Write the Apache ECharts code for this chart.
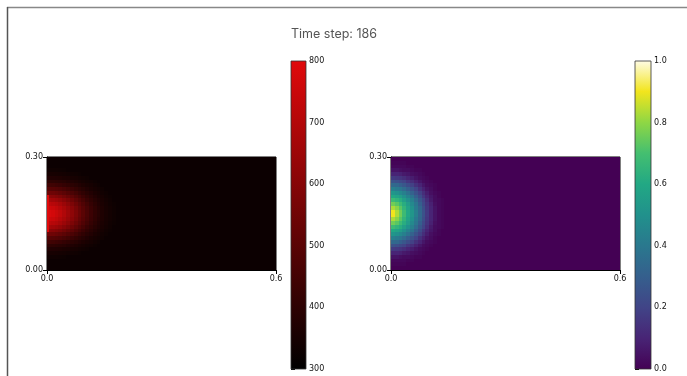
<!DOCTYPE html>
<html>
<head>
<meta charset="utf-8">
<script src="https://cdn.jsdelivr.net/npm/echarts@6/dist/echarts.min.js"></script>
<style>html,body{margin:0;padding:0;background:#fff;}#c{width:687px;height:376px;}</style>
</head>
<body>
<div id="c"></div>
<script>
// ---------- data ----------
const titleText = 'Time step: 186';
const xTicks = [0.0, 0.6];
const yTicks = [0.0, 0.3];
const tempTicks = [300, 400, 500, 600, 700, 800];
const concTicks = [0.0, 0.2, 0.4, 0.6, 0.8, 1.0];
const nx = 60, ny = 30, cell = 0.01;
const tempBackground = 326;
const concBackground = 0.0;
const tempRowStart = 3;  // first listed temperature row (y = 0.03..0.04)
const concRowStart = 1;  // first listed concentration row (y = 0.01..0.02)
// temperature rows, columns i = 0.. (unlisted cells = background)
const tempRows = [
  [336,336,335,333,331],
  [351,351,349,347,344,341,338,335,331],
  [373,372,369,366,361,357,352,348,342,338,333],
  [403,401,397,392,386,379,372,364,356,350,343,337,331],
  [444,441,435,427,417,408,397,386,376,365,356,348,340,334],
  [494,490,483,473,460,446,429,413,399,384,372,359,350,342,335],
  [549,545,535,522,506,488,468,447,425,407,390,375,360,351,341,334],
  [609,603,592,576,555,532,507,482,457,431,409,390,374,359,349,339,331],
  [667,660,647,628,603,576,546,515,486,457,428,405,385,369,355,345,336],
  [717,709,695,672,645,614,580,545,510,478,447,418,396,377,360,349,339,331],
  [756,747,729,705,676,642,605,567,528,494,460,429,404,383,366,352,342,333],
  [781,771,749,723,693,656,618,579,539,502,467,435,408,386,368,354,343,334],
  [781,771,749,723,693,656,618,579,539,502,467,435,408,386,368,354,343,334],
  [756,747,729,705,676,642,605,567,528,494,460,429,404,383,366,352,342,333],
  [717,709,695,672,645,614,580,545,510,478,447,418,396,377,360,349,339,331],
  [667,660,647,628,603,576,546,515,486,457,428,405,385,369,355,345,336],
  [609,603,592,576,555,532,507,482,457,431,409,390,374,359,349,339,331],
  [549,545,535,522,506,488,468,447,425,407,390,375,360,351,341,334],
  [494,490,483,473,460,446,429,413,399,384,372,359,350,342,335],
  [444,441,435,427,417,408,397,386,376,365,356,348,340,334],
  [403,401,397,392,386,379,372,364,356,350,343,337,331],
  [373,372,369,366,361,357,352,348,342,338,333],
  [351,351,349,347,344,341,338,335,331],
  [336,336,335,333,331]
];
const concRows = [
  [.01,.01,.01,.01],
  [.02,.02,.02,.02,.01,.01],
  [.05,.05,.04,.03,.03,.02,.01,.01],
  [.10,.10,.09,.07,.06,.04,.03,.02,.01],
  [.17,.16,.15,.13,.10,.08,.05,.03,.02,.01],
  [.25,.24,.22,.20,.16,.13,.09,.06,.03,.02,.01],
  [.34,.33,.30,.27,.23,.19,.14,.10,.06,.03,.02,.01],
  [.43,.41,.39,.35,.30,.25,.20,.14,.09,.05,.03,.01],
  [.52,.50,.47,.43,.38,.31,.25,.19,.13,.08,.04,.02,.01],
  [.60,.58,.55,.50,.44,.38,.30,.23,.16,.10,.06,.03,.01],
  [.68,.65,.62,.56,.50,.43,.35,.27,.20,.13,.07,.03,.02,.01],
  [.76,.73,.68,.62,.55,.47,.39,.30,.22,.15,.09,.04,.02,.01],
  [.83,.79,.73,.65,.58,.50,.41,.33,.24,.16,.10,.05,.02,.01],
  [.90,.83,.76,.68,.60,.52,.43,.34,.25,.17,.10,.05,.02,.01],
  [.90,.83,.76,.68,.60,.52,.43,.34,.25,.17,.10,.05,.02,.01],
  [.83,.79,.73,.65,.58,.50,.41,.33,.24,.16,.10,.05,.02,.01],
  [.76,.73,.68,.62,.55,.47,.39,.30,.22,.15,.09,.04,.02,.01],
  [.68,.65,.62,.56,.50,.43,.35,.27,.20,.13,.07,.03,.02,.01],
  [.60,.58,.55,.50,.44,.38,.30,.23,.16,.10,.06,.03,.01],
  [.52,.50,.47,.43,.38,.31,.25,.19,.13,.08,.04,.02,.01],
  [.43,.41,.39,.35,.30,.25,.20,.14,.09,.05,.03,.01],
  [.34,.33,.30,.27,.23,.19,.14,.10,.06,.03,.02,.01],
  [.25,.24,.22,.20,.16,.13,.09,.06,.03,.02,.01],
  [.17,.16,.15,.13,.10,.08,.05,.03,.02,.01],
  [.10,.10,.09,.07,.06,.04,.03,.02,.01],
  [.05,.05,.04,.03,.03,.02,.01,.01],
  [.02,.02,.02,.02,.01,.01],
  [.01,.01,.01,.01]
];
// heated inlet strip on the left wall: [x0, x1, value, y0, y1]
const tempInlet = [[0, 0.005, 800, 0.10, 0.20]];

// ---------- colours ----------
const redMap = ['#000000', '#e0090b'];
const viridisMap = ['#440154','#482475','#414487','#355f8d','#2a788e','#21918c','#22a884','#44bf70','#8fd744','#f2e51d','#fffce6'];

// ---------- build ----------
function buildField(rows, start, bg) {
  const out = [];
  for (let j = 0; j < ny; j++) {
    const r = rows[j - start];
    for (let i = 0; i < nx; i++) {
      const v = (r && r[i] !== undefined) ? r[i] : bg;
      out.push([(i + 0.5) * cell, (j + 0.5) * cell, v]);
    }
  }
  return out;
}
const tempData = buildField(tempRows, tempRowStart, tempBackground);
const concData = buildField(concRows, concRowStart, concBackground);

function rectFrom(p0, p1) {
  const x0 = Math.round(p0[0]), x1 = Math.round(p1[0]);
  const yTop = Math.round(p1[1]), yBot = Math.round(p0[1]);
  return { x: x0, y: yTop, width: x1 - x0, height: yBot - yTop };
}
function cellItem(params, api) {
  const x = api.value(0), y = api.value(1);
  const p0 = api.coord([x - cell / 2, y - cell / 2]);
  const p1 = api.coord([x + cell / 2, y + cell / 2]);
  return { type: 'rect', shape: rectFrom(p0, p1), style: { fill: api.visual('color') } };
}
function stripItem(params, api) {
  const p0 = api.coord([api.value(0), api.value(3)]);
  const p1 = api.coord([api.value(1), api.value(4)]);
  return { type: 'rect', shape: rectFrom(p0, p1), style: { fill: api.visual('color') } };
}
function barItem(colors, lo, hi) {
  return function (params, api) {
    const p0 = api.coord([0, lo]);
    const p1 = api.coord([1, hi]);
    const stops = colors.map((c, k) => ({ offset: k / (colors.length - 1), color: c }));
    return {
      type: 'rect',
      shape: { x: p0[0], y: p1[1], width: p1[0] - p0[0], height: p0[1] - p1[1] },
      style: { fill: new echarts.graphic.LinearGradient(0, 1, 0, 0, stops), stroke: '#333', lineWidth: 0.8 }
    };
  };
}

const font = 'DejaVu Sans';
const lab = { fontSize: 8, color: '#111', fontFamily: font };
function plotX(gi) {
  return {
    type: 'value', gridIndex: gi, min: xTicks[0], max: xTicks[1], interval: xTicks[1] - xTicks[0],
    axisLine: { show: true, onZero: false, lineStyle: { color: '#000', width: 1 } },
    axisTick: { show: true, length: 4, lineStyle: { color: '#000' } },
    splitLine: { show: false },
    axisLabel: Object.assign({ margin: 5, formatter: v => v.toFixed(1) }, lab)
  };
}
function plotY(gi) {
  return {
    type: 'value', gridIndex: gi, min: yTicks[0], max: yTicks[1], interval: yTicks[1] - yTicks[0],
    axisLine: { show: true, onZero: false, lineStyle: { color: '#000', width: 1 } },
    axisTick: { show: true, length: 4, lineStyle: { color: '#000' } },
    splitLine: { show: false },
    axisLabel: Object.assign({ margin: 4, formatter: v => v.toFixed(2) }, lab)
  };
}
function barX(gi) {
  return { type: 'value', gridIndex: gi, min: 0, max: 1, show: false };
}
function barY(gi, ticks, fmt) {
  return {
    type: 'value', gridIndex: gi, position: 'right', min: ticks[0], max: ticks[ticks.length - 1],
    interval: ticks[1] - ticks[0],
    axisLine: { show: false }, splitLine: { show: false },
    axisTick: { show: true, length: 4, lineStyle: { color: '#000' } },
    axisLabel: Object.assign({ margin: 3, formatter: fmt }, lab)
  };
}

const chart = echarts.init(document.getElementById('c'), null, { renderer: 'canvas' });
chart.setOption({
  animation: false,
  backgroundColor: '#fff',
  title: {
    text: titleText, left: 291, top: 28, padding: 0,
    textStyle: { fontSize: 12.5, fontWeight: 'normal', color: '#555', fontFamily: 'Inter' }
  },
  graphic: [
    { type: 'line', shape: { x1: 7, y1: 7.5, x2: 687, y2: 7.5 }, style: { stroke: '#888', lineWidth: 1.5 } },
    { type: 'line', shape: { x1: 7.5, y1: 7, x2: 7.5, y2: 376 }, style: { stroke: '#555', lineWidth: 1.5 } }
  ],
  grid: [
    { left: 47, top: 157, width: 229, height: 113, show: true, borderColor: '#000', borderWidth: 1, backgroundColor: 'transparent' },
    { left: 291, top: 61, width: 15, height: 308 },
    { left: 391, top: 157, width: 229, height: 113, show: true, borderColor: '#000', borderWidth: 1, backgroundColor: 'transparent' },
    { left: 635, top: 61, width: 16, height: 308 }
  ],
  xAxis: [plotX(0), barX(1), plotX(2), barX(3)],
  yAxis: [plotY(0), barY(1, tempTicks, v => String(v)), plotY(2), barY(3, concTicks, v => v.toFixed(1))],
  visualMap: [
    { show: false, type: 'continuous', seriesIndex: [0, 1], dimension: 2, min: tempTicks[0], max: tempTicks[tempTicks.length - 1], inRange: { color: redMap } },
    { show: false, type: 'continuous', seriesIndex: [3], dimension: 2, min: concTicks[0], max: concTicks[concTicks.length - 1], inRange: { color: viridisMap } }
  ],
  series: [
    { type: 'custom', xAxisIndex: 0, yAxisIndex: 0, data: tempData, renderItem: cellItem, clip: true, silent: true },
    { type: 'custom', xAxisIndex: 0, yAxisIndex: 0, data: tempInlet, encode: { x: [0, 1], y: [3, 4] }, renderItem: stripItem, clip: true, silent: true },
    { type: 'custom', xAxisIndex: 1, yAxisIndex: 1, data: [[0.5, tempTicks[0]]], renderItem: barItem(redMap, tempTicks[0], tempTicks[tempTicks.length - 1]), silent: true },
    { type: 'custom', xAxisIndex: 2, yAxisIndex: 2, data: concData, renderItem: cellItem, clip: true, silent: true },
    { type: 'custom', xAxisIndex: 3, yAxisIndex: 3, data: [[0.5, concTicks[0]]], renderItem: barItem(viridisMap, concTicks[0], concTicks[concTicks.length - 1]), silent: true }
  ]
});
</script>
</body>
</html>
